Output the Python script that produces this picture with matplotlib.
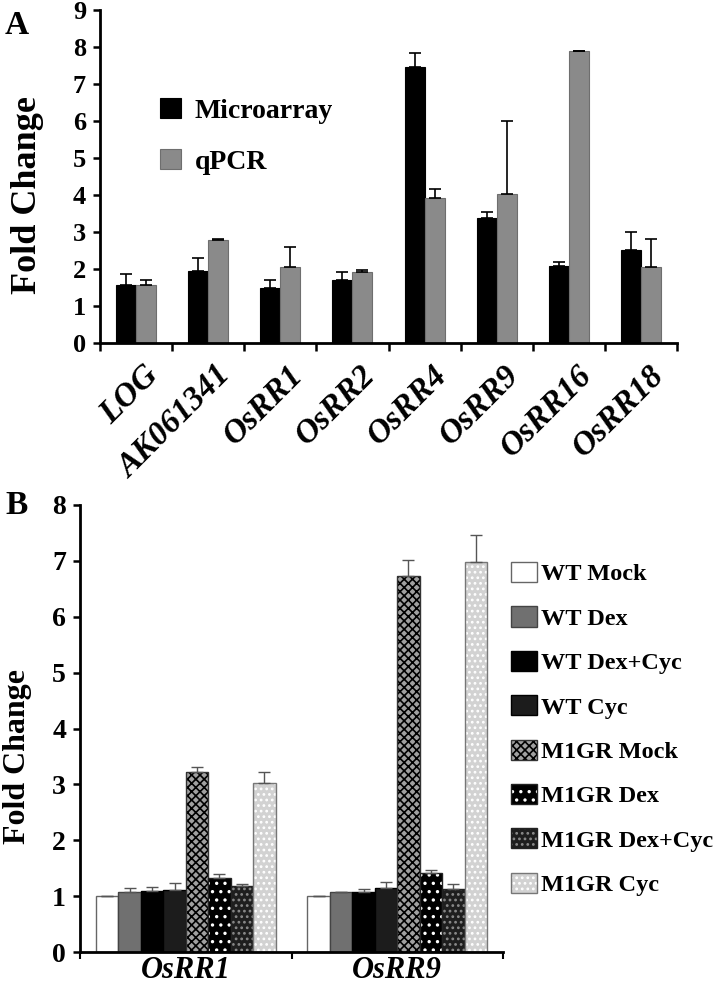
import numpy as np
import matplotlib
matplotlib.use('Agg')
import matplotlib.pyplot as plt
from matplotlib.transforms import ScaledTranslation

plt.rcParams['font.family'] = 'Liberation Serif'
plt.rcParams['font.weight'] = 'bold'
plt.rcParams['hatch.linewidth'] = 1.2

# panel A data
genes_a = ['LOG', 'AK061341', 'OsRR1', 'OsRR2', 'OsRR4', 'OsRR9', 'OsRR16', 'OsRR18']
micro = [1.57, 1.94, 1.48, 1.70, 7.45, 3.39, 2.08, 2.51]
micro_err = [0.30, 0.36, 0.22, 0.23, 0.38, 0.15, 0.12, 0.49]
qpcr = [1.57, 2.79, 2.05, 1.93, 3.93, 4.02, 7.88, 2.06]
qpcr_err = [0.13, 0.03, 0.54, 0.05, 0.22, 1.98, 0.02, 0.76]

# panel B data
genes_b = ['OsRR1', 'OsRR9']
treatments = ['WT Mock', 'WT Dex', 'WT Dex+Cyc', 'WT Cyc',
              'M1GR Mock', 'M1GR Dex', 'M1GR Dex+Cyc', 'M1GR Cyc']
fold_rr1 = [1.00, 1.07, 1.10, 1.11, 3.23, 1.32, 1.18, 3.02]
err_rr1 = [0.01, 0.07, 0.07, 0.12, 0.08, 0.07, 0.03, 0.20]
fold_rr9 = [1.00, 1.07, 1.07, 1.14, 6.73, 1.41, 1.12, 6.98]
err_rr9 = [0.01, 0.01, 0.05, 0.12, 0.28, 0.05, 0.09, 0.49]

face_b = ['white', '#707070', 'black', '#1c1c1c', '#a0a0a0', 'black', '#1e1e1e', '#d2d2d2']
hatch_b = [None, None, None, None, 'xxxx', '..', '...', '...']
hatchcol_b = ['#555555', '#555555', 'black', 'black', 'black', 'white', '#8a8a8a', 'white']
edge_b = ['#666666', '#444444', 'black', 'black', '#333333', '#222222', '#222222', '#777777']

W, H = 718, 990
fig = plt.figure(figsize=(W / 100, H / 100), dpi=100)

# ---------------- panel A ----------------
ax = fig.add_axes([100 / W, 1 - 343 / H, 577 / W, 333 / H])
x = np.arange(len(genes_a)) + 0.5
bw = 0.278
ax.bar(x - bw / 2, micro, bw, color='black', edgecolor='black', linewidth=0.8, label='Microarray')
ax.bar(x + bw / 2, qpcr, bw, color='#8a8a8a', edgecolor='#6e6e6e', linewidth=0.8, label='qPCR')
ax.errorbar(x - bw / 2, micro, yerr=[np.zeros(len(micro)), micro_err], fmt='none',
            ecolor='black', elinewidth=1.2, capsize=4, capthick=1.2)
ax.errorbar(x + bw / 2, qpcr, yerr=[np.zeros(len(qpcr)), qpcr_err], fmt='none',
            ecolor='black', elinewidth=1.2, capsize=4, capthick=1.2)
ax.set_xlim(0, len(genes_a))
ax.set_ylim(0, 9)
ax.set_yticks(range(10))
ax.set_xticks(np.arange(len(genes_a) + 1))
ax.set_xticklabels([])
ax.set_xticks(x, minor=True)
ax.set_xticklabels(genes_a, minor=True, rotation=45, ha='right', va='top',
                   rotation_mode='anchor', fontsize=24, fontstyle='italic', fontweight='bold')
ax.tick_params(axis='x', which='minor', length=0, pad=12)
ax.tick_params(axis='x', which='major', length=6, width=1.8, direction='out')
ax.tick_params(axis='y', length=5, width=1.8, direction='out', labelsize=19, pad=5)
for s in ['top', 'right']:
    ax.spines[s].set_visible(False)
for s in ['left', 'bottom']:
    ax.spines[s].set_linewidth(2)
off = ScaledTranslation(0.07, 0, fig.dpi_scale_trans)
for lab in ax.xaxis.get_minorticklabels():
    lab.set_transform(lab.get_transform() + off)
ax.legend(loc='upper left', bbox_to_anchor=(160 / W, 1 - 98 / H), bbox_transform=fig.transFigure,
          frameon=False, fontsize=20, handlelength=0.75, handleheight=0.75,
          handletextpad=0.5, labelspacing=0.9, borderpad=0, borderaxespad=0)
fig.text(28 / W, 1 - 195 / H, 'Fold Change', rotation=90, ha='center', va='center', fontsize=26)
fig.text(5 / W, 1 - 25 / H, 'A', ha='left', va='center', fontsize=24)

# ---------------- panel B ----------------
bx = fig.add_axes([80 / W, 1 - 952 / H, 423 / W, 447 / H])
xb = np.arange(len(genes_b)) + 0.5
nb = len(treatments)
bwb = 0.851 / nb
handles = []
for i in range(nb):
    vals = [fold_rr1[i], fold_rr9[i]]
    errs = [err_rr1[i], err_rr9[i]]
    pos = xb + (i - (nb - 1) / 2) * bwb
    b1 = bx.bar(pos, vals, bwb, color=face_b[i], edgecolor=hatchcol_b[i],
                hatch=hatch_b[i], linewidth=0)
    b2 = bx.bar(pos, vals, bwb, fill=False, edgecolor=edge_b[i], linewidth=1.0)
    bx.errorbar(pos, vals, yerr=[np.zeros(2), errs], fmt='none', ecolor='#555555',
                elinewidth=1.0, capsize=4, capthick=1.0)
    handles.append((b1, b2))
bx.set_xlim(0, len(genes_b))
bx.set_ylim(0, 8)
bx.set_yticks(range(9))
bx.set_xticks(np.arange(len(genes_b) + 1))
bx.set_xticklabels([])
bx.set_xticks(xb, minor=True)
bx.set_xticklabels(genes_b, minor=True, fontsize=22, fontstyle='italic', fontweight='bold')
bx.tick_params(axis='x', which='minor', length=0, pad=3)
bx.tick_params(axis='x', which='major', length=5, width=1.5, direction='out')
bx.tick_params(axis='y', length=5, width=1.8, direction='out', labelsize=20, pad=5)
for s in ['top', 'right']:
    bx.spines[s].set_visible(False)
for s in ['left', 'bottom']:
    bx.spines[s].set_linewidth(2)
bx.legend(handles, treatments, loc='upper left', bbox_to_anchor=(511 / W, 1 - 562 / H),
          bbox_transform=fig.transFigure, frameon=False, fontsize=17.5,
          handlelength=1.07, handleheight=0.9, handletextpad=0.15,
          labelspacing=0.86, borderpad=0, borderaxespad=0)
fig.text(18 / W, 1 - 757 / H, 'Fold Change', rotation=90, ha='center', va='center', fontsize=23)
fig.text(5 / W, 1 - 505 / H, 'B', ha='left', va='center', fontsize=24)

fig.savefig('out.png', dpi=100)
